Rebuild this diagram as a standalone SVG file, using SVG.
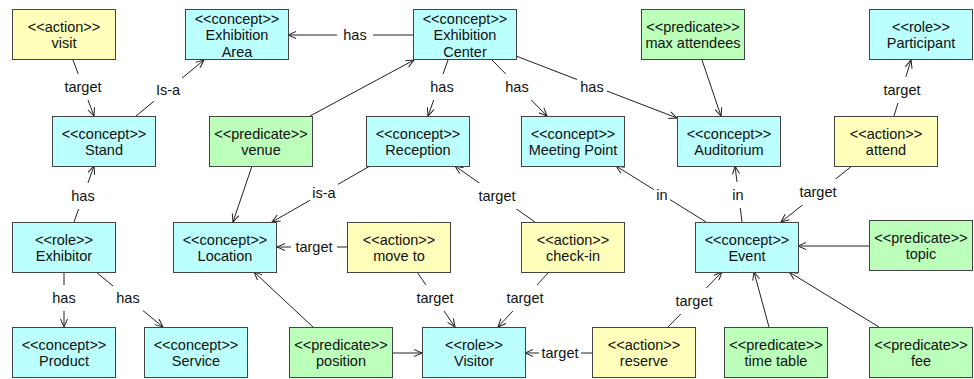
<svg xmlns="http://www.w3.org/2000/svg" width="974" height="379" viewBox="0 0 974 379">
<defs>
<style>
.n rect{stroke:#444;stroke-width:1}
.concept rect{fill:#bbffff}
.action rect{fill:#ffffbb}
.pred rect{fill:#bbffbb}
text{font-family:"Liberation Sans",Arial,Helvetica,sans-serif;font-size:14.5px;fill:#111;text-anchor:middle}
.e line{stroke:#222;stroke-width:1;marker-end:url(#ah)}
.lb rect{fill:#fff;stroke:none}
</style>
<marker id="ah" markerUnits="userSpaceOnUse" markerWidth="12" markerHeight="12" viewBox="-10 -6 12 12" refX="0" refY="0" orient="auto">
<path d="M-8,-3.5 L0,0 L-8,3.5" fill="none" stroke="#222" stroke-width="1"/>
</marker>
</defs>
<rect width="974" height="379" fill="#fff"/>
<g id="connectors" class="e">
<line x1="73" y1="60" x2="94" y2="116"/>
<line x1="136" y1="116" x2="204" y2="60"/>
<line x1="413" y1="35" x2="288" y2="35"/>
<line x1="310" y1="116" x2="414" y2="60"/>
<line x1="448" y1="60" x2="428" y2="116"/>
<line x1="492" y1="60" x2="547" y2="116"/>
<line x1="516" y1="56" x2="677" y2="118"/>
<line x1="702" y1="60" x2="721" y2="116"/>
<line x1="894" y1="116" x2="911" y2="60"/>
<line x1="742" y1="222" x2="735" y2="166"/>
<line x1="706" y1="222" x2="616" y2="166"/>
<line x1="852" y1="166" x2="781" y2="222"/>
<line x1="869" y1="246" x2="798" y2="246"/>
<line x1="769" y1="327" x2="754" y2="272"/>
<line x1="879" y1="327" x2="789" y2="272"/>
<line x1="668" y1="327" x2="722" y2="272"/>
<line x1="592" y1="353" x2="525" y2="353"/>
<line x1="393" y1="353" x2="422" y2="353"/>
<line x1="313" y1="327" x2="254" y2="272"/>
<line x1="417" y1="272" x2="455" y2="327"/>
<line x1="549" y1="272" x2="498" y2="327"/>
<line x1="535" y1="222" x2="455" y2="166"/>
<line x1="347" y1="247" x2="277" y2="247"/>
<line x1="370" y1="166" x2="272" y2="222"/>
<line x1="252" y1="166" x2="233" y2="222"/>
<line x1="74" y1="222" x2="94" y2="166"/>
<line x1="64" y1="272" x2="64" y2="327"/>
<line x1="96" y1="272" x2="163" y2="327"/>
<g class="lb">
<rect x="64" y="74" width="38" height="26"/><text x="83" y="92">target</text>
<rect x="154" y="77" width="28" height="26"/><text x="168" y="95">Is-a</text>
<rect x="337" y="22" width="36" height="26"/><text x="355" y="40">has</text>
<rect x="427" y="74" width="30" height="26"/><text x="442" y="92">has</text>
<rect x="502" y="74" width="30" height="26"/><text x="517" y="92">has</text>
<rect x="577" y="74" width="30" height="26"/><text x="592" y="92">has</text>
<rect x="881" y="77" width="42" height="26"/><text x="902" y="95">target</text>
<rect x="730" y="182" width="16" height="26"/><text x="738" y="200">in</text>
<rect x="654" y="182" width="16" height="26"/><text x="662" y="200">in</text>
<rect x="797" y="179" width="42" height="26"/><text x="818" y="197">target</text>
<rect x="673" y="288" width="42" height="26"/><text x="694" y="306">target</text>
<rect x="539" y="340" width="42" height="26"/><text x="560" y="358">target</text>
<rect x="414" y="285" width="42" height="26"/><text x="435" y="303">target</text>
<rect x="504" y="285" width="42" height="26"/><text x="525" y="303">target</text>
<rect x="476" y="183" width="42" height="26"/><text x="497" y="201">target</text>
<rect x="291" y="234" width="46" height="26"/><text x="314" y="252">target</text>
<rect x="310" y="180" width="28" height="26"/><text x="324" y="198">is-a</text>
<rect x="68" y="183" width="30" height="26"/><text x="83" y="201">has</text>
<rect x="49" y="285" width="30" height="26"/><text x="64" y="303">has</text>
<rect x="113" y="285" width="30" height="26"/><text x="128" y="303">has</text>
</g>
</g>
<g id="visit" class="n action"><rect x="12.5" y="9.5" width="103" height="50"/><text x="64" y="31.5">&lt;&lt;action&gt;&gt;</text><text x="64" y="48">visit</text></g>
<g id="exhibition-area" class="n concept"><rect x="185.5" y="9.5" width="103" height="50"/><text x="237" y="23.5">&lt;&lt;concept&gt;&gt;</text><text x="237" y="40">Exhibition</text><text x="237" y="56.5">Area</text></g>
<g id="exhibition-center" class="n concept"><rect x="413.5" y="9.5" width="103" height="50"/><text x="465" y="23.5">&lt;&lt;concept&gt;&gt;</text><text x="465" y="40">Exhibition</text><text x="465" y="56.5">Center</text></g>
<g id="max-attendees" class="n pred"><rect x="641.5" y="9.5" width="103" height="50"/><text x="693" y="31.5">&lt;&lt;predicate&gt;&gt;</text><text x="693" y="48">max attendees</text></g>
<g id="participant" class="n concept"><rect x="869.5" y="9.5" width="103" height="50"/><text x="921" y="31.5">&lt;&lt;role&gt;&gt;</text><text x="921" y="48">Participant</text></g>
<g id="stand" class="n concept"><rect x="52.5" y="116.5" width="103" height="50"/><text x="104" y="138.5">&lt;&lt;concept&gt;&gt;</text><text x="104" y="155">Stand</text></g>
<g id="venue" class="n pred"><rect x="209.5" y="116.5" width="103" height="50"/><text x="261" y="138.5">&lt;&lt;predicate&gt;&gt;</text><text x="261" y="155">venue</text></g>
<g id="reception" class="n concept"><rect x="366.5" y="116.5" width="103" height="50"/><text x="418" y="138.5">&lt;&lt;concept&gt;&gt;</text><text x="418" y="155">Reception</text></g>
<g id="meeting-point" class="n concept"><rect x="521.5" y="116.5" width="103" height="50"/><text x="573" y="138.5">&lt;&lt;concept&gt;&gt;</text><text x="573" y="155">Meeting Point</text></g>
<g id="auditorium" class="n concept"><rect x="677.5" y="116.5" width="103" height="50"/><text x="729" y="138.5">&lt;&lt;concept&gt;&gt;</text><text x="729" y="155">Auditorium</text></g>
<g id="attend" class="n action"><rect x="834.5" y="116.5" width="103" height="50"/><text x="886" y="138.5">&lt;&lt;action&gt;&gt;</text><text x="886" y="155">attend</text></g>
<g id="exhibitor" class="n concept"><rect x="12.5" y="222.5" width="103" height="50"/><text x="64" y="244.5">&lt;&lt;role&gt;&gt;</text><text x="64" y="261">Exhibitor</text></g>
<g id="location" class="n concept"><rect x="173.5" y="222.5" width="103" height="50"/><text x="225" y="244.5">&lt;&lt;concept&gt;&gt;</text><text x="225" y="261">Location</text></g>
<g id="move-to" class="n action"><rect x="347.5" y="222.5" width="103" height="50"/><text x="399" y="244.5">&lt;&lt;action&gt;&gt;</text><text x="399" y="261">move to</text></g>
<g id="check-in" class="n action"><rect x="521.5" y="222.5" width="103" height="50"/><text x="573" y="244.5">&lt;&lt;action&gt;&gt;</text><text x="573" y="261">check-in</text></g>
<g id="event" class="n concept"><rect x="695.5" y="222.5" width="103" height="50"/><text x="747" y="244.5">&lt;&lt;concept&gt;&gt;</text><text x="747" y="261">Event</text></g>
<g id="topic" class="n pred"><rect x="869.5" y="220.5" width="103" height="50"/><text x="921" y="242.5">&lt;&lt;predicate&gt;&gt;</text><text x="921" y="259">topic</text></g>
<g id="product" class="n concept"><rect x="12.5" y="327.5" width="103" height="50"/><text x="64" y="349.5">&lt;&lt;concept&gt;&gt;</text><text x="64" y="366">Product</text></g>
<g id="service" class="n concept"><rect x="144.5" y="327.5" width="103" height="50"/><text x="196" y="349.5">&lt;&lt;concept&gt;&gt;</text><text x="196" y="366">Service</text></g>
<g id="position" class="n pred"><rect x="289.5" y="327.5" width="103" height="50"/><text x="341" y="349.5">&lt;&lt;predicate&gt;&gt;</text><text x="341" y="366">position</text></g>
<g id="visitor" class="n concept"><rect x="422.5" y="327.5" width="103" height="50"/><text x="474" y="349.5">&lt;&lt;role&gt;&gt;</text><text x="474" y="366">Visitor</text></g>
<g id="reserve" class="n action"><rect x="592.5" y="327.5" width="103" height="50"/><text x="644" y="349.5">&lt;&lt;action&gt;&gt;</text><text x="644" y="366">reserve</text></g>
<g id="time-table" class="n pred"><rect x="724.5" y="327.5" width="103" height="50"/><text x="776" y="349.5">&lt;&lt;predicate&gt;&gt;</text><text x="776" y="366">time table</text></g>
<g id="fee" class="n pred"><rect x="869.5" y="327.5" width="103" height="50"/><text x="921" y="349.5">&lt;&lt;predicate&gt;&gt;</text><text x="921" y="366">fee</text></g>
</svg>
